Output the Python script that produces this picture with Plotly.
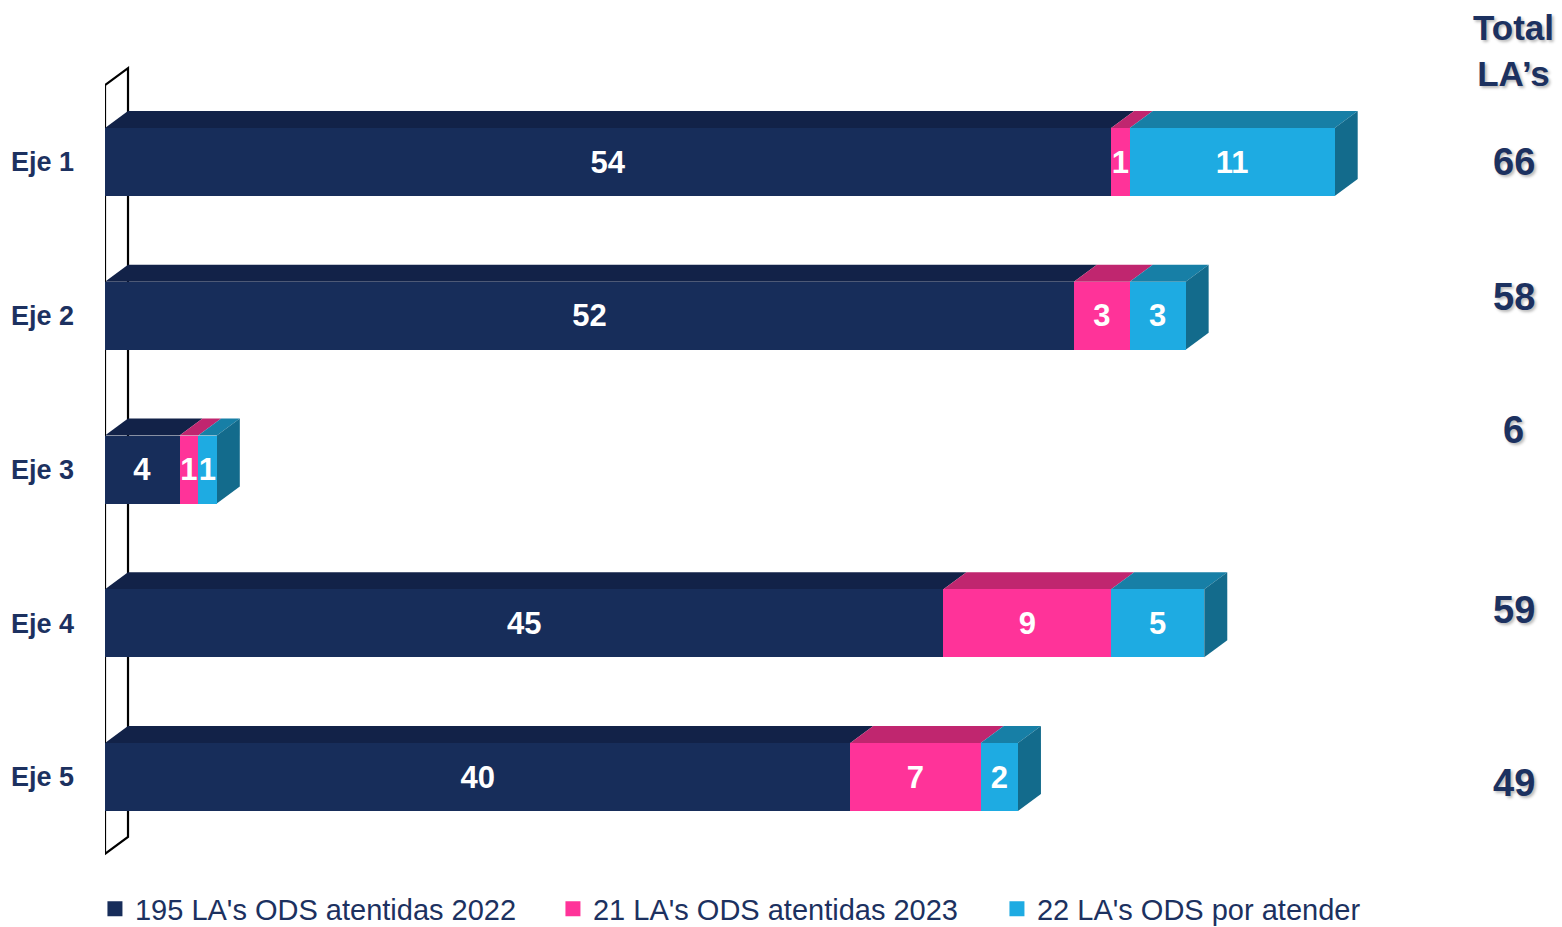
import plotly.graph_objects as go

# ---------------- data ----------------
categories = ["Eje 1", "Eje 2", "Eje 3", "Eje 4", "Eje 5"]
atendidas_2022 = [54, 52, 4, 45, 40]
atendidas_2023 = [1, 3, 1, 9, 7]
por_atender = [11, 3, 1, 5, 2]
series_names = ["195 LA's ODS atentidas 2022",
                "21 LA's ODS atentidas 2023",
                "22 LA's ODS por atender"]
total_header = "Total<br>LA’s"

# ---------------- style ----------------
FONT = "Liberation Sans, Arial, sans-serif"
FRONT = ["#172D5A", "#FF3399", "#1EABE2"]
TOP = ["#122248", "#C0266F", "#177FA6"]
SIDE = ["#0F1D3D", "#A01F5C", "#136B8C"]
NAVY_TEXT = "#1C3160"
BAR_W = 0.4423          # bar thickness (y units)
DX = 1.235              # 3D depth, x units
DY = 0.1106             # 3D depth, y units
TOTAL_Y_SHIFT = [0.0, -0.122, -0.257, -0.086, 0.039]
LEGEND_ENTRY_W = [413, 399, 380]
SHADOW = "2px 2px 3px rgba(0,0,0,0.28)"

series = [atendidas_2022, atendidas_2023, por_atender]
ypos = list(range(len(categories)))
totals = [sum(v) for v in zip(*series)]

fig = go.Figure()
for vals, name, col in zip(series, series_names, FRONT):
    fig.add_trace(go.Bar(
        y=ypos, x=vals, orientation="h", name=name, width=BAR_W,
        marker=dict(color=col, line=dict(width=0)),
        text=[str(v) for v in vals], textposition="inside",
        insidetextanchor="middle", textangle=0, constraintext="none",
        textfont=dict(family=FONT, size=31, color="white", weight="bold"),
        hoverinfo="skip", showlegend=False,
    ))

# legend entries (square keys)
for name, col, lw in zip(series_names, FRONT, LEGEND_ENTRY_W):
    fig.add_trace(go.Scatter(
        x=[None], y=[None], mode="markers", name=name,
        marker=dict(symbol="square", size=15, color=col),
        legendwidth=lw, hoverinfo="skip", showlegend=True,
    ))

shapes = []
# back wall
y_first, y_last = ypos[0] - 0.5, ypos[-1] + 0.5
shapes.append(dict(
    type="path", xref="x", yref="y", layer="below",
    path=f"M0,{y_first} L{DX},{y_first - DY} L{DX},{y_last - DY} L0,{y_last} Z",
    fillcolor="white", line=dict(color="black", width=2.2)))

# top faces and side faces
for i in ypos:
    yt = i - BAR_W / 2
    yb = i + BAR_W / 2
    start = 0
    last_j = 0
    for j, vals in enumerate(series):
        v = vals[i]
        x0, x1 = start, start + v
        if v > 0:
            shapes.append(dict(
                type="path", xref="x", yref="y", layer="below",
                path=f"M{x0},{yt} L{x1},{yt} L{x1 + DX},{yt - DY} L{x0 + DX},{yt - DY} Z",
                fillcolor=TOP[j], line=dict(width=0)))
            last_j = j
        start = x1
    shapes.append(dict(
        type="path", xref="x", yref="y", layer="below",
        path=f"M{start},{yt} L{start + DX},{yt - DY} L{start + DX},{yb - DY} L{start},{yb} Z",
        fillcolor=SIDE[last_j], line=dict(width=0)))

annotations = [dict(
    x=0.967, xref="paper", y=0.943, yref="paper", text=total_header,
    showarrow=False, xanchor="center", yanchor="middle",
    font=dict(family=FONT, size=35, color=NAVY_TEXT, weight="bold", shadow=SHADOW))]
for i, t in enumerate(totals):
    annotations.append(dict(
        x=0.967, xref="paper", y=ypos[i] + TOTAL_Y_SHIFT[i], yref="y",
        text=str(t), showarrow=False, xanchor="center", yanchor="middle",
        font=dict(family=FONT, size=38, color=NAVY_TEXT, weight="bold", shadow=SHADOW)))

fig.update_layout(
    width=1562, height=927,
    margin=dict(l=105, r=0, t=0, b=40, autoexpand=False),
    barmode="stack",
    plot_bgcolor="white", paper_bgcolor="white",
    font=dict(family=FONT, color=NAVY_TEXT),
    xaxis=dict(range=[0, 78.2], visible=False, fixedrange=True),
    yaxis=dict(range=[4.7154, -1.0537], tickvals=ypos, ticktext=categories,
               showgrid=False, zeroline=False, showline=False, ticks="",
               ticklabelstandoff=30, fixedrange=True,
               tickfont=dict(family=FONT, size=27, color=NAVY_TEXT, weight="bold")),
    legend=dict(orientation="h", x=-0.0069, xanchor="left", y=-0.0248, yanchor="middle",
                font=dict(family=FONT, size=29, color=NAVY_TEXT),
                bgcolor="rgba(0,0,0,0)", traceorder="normal", itemwidth=30),
    shapes=shapes,
    annotations=annotations,
    showlegend=True,
)

fig.write_html("out.html", config={"displayModeBar": False},
               post_script="document.body.style.margin='0';")
